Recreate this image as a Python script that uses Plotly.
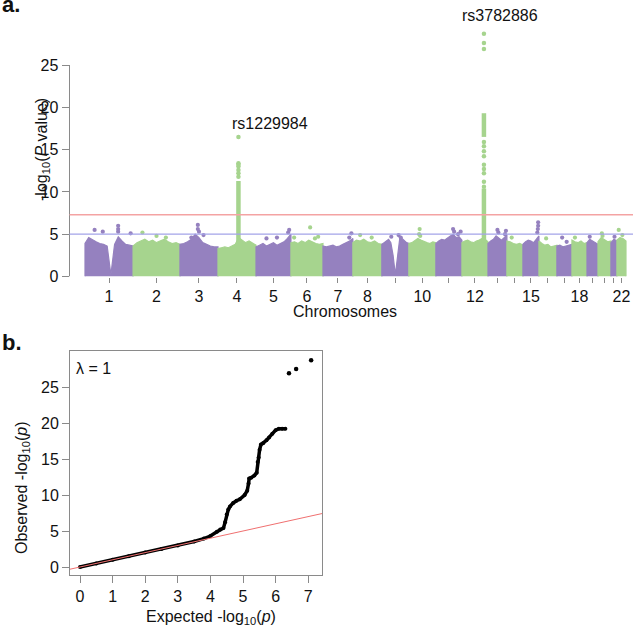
import numpy as np
import plotly.graph_objects as go

# ---------------- data ----------------
chrom_names = [str(i) for i in range(1, 23)]
# genomic extent covered by the data on each chromosome (Mb)
chrom_span_mb = [249, 243, 197, 197, 181, 166, 155, 150, 140, 140, 135,
                 135, 98, 83, 83, 93, 78, 78, 57, 67, 31, 47]
chrom_tick_labels = ["1", "2", "3", "4", "5", "6", "7", "8", "", "10", "",
                     "12", "", "", "15", "", "", "18", "", "", "", "22"]

# upper edge of the dense cloud of SNPs (-log10 P), evenly spaced along each chromosome
body_top = [
    [3.9, 4.6, 4.3, 4.1, 3.9, 3.8, 3.6, 0.2, 3.8, 4.7, 4.2, 3.8, 3.7, 3.6],
    [3.6, 4.0, 4.2, 4.4, 4.1, 4.3, 4.0, 4.2, 4.4, 4.1, 3.9, 4.0, 3.8],
    [3.8, 3.9, 4.1, 4.4, 5.0, 4.6, 4.0, 3.8, 3.6, 3.5, 3.5],
    [3.3, 3.4, 3.5, 3.4, 3.6, 3.8, 4.6, 4.3, 4.0, 4.2, 3.9, 3.7],
    [3.5, 3.7, 3.9, 3.6, 3.8, 4.0, 3.7, 3.9, 4.1, 4.5, 5.0],
    [4.0, 4.1, 3.9, 4.2, 4.0, 4.3, 4.1, 3.9, 3.8, 3.9],
    [3.6, 3.5, 3.6, 3.7, 3.5, 3.6, 3.8, 4.0, 4.2, 4.5],
    [4.0, 4.3, 4.2, 4.4, 4.1, 4.0, 4.2, 3.9, 3.8],
    [3.8, 4.0, 4.2, 4.4, 4.0, 2.5, 0.2, 2.8, 4.6, 4.5, 4.2, 4.0, 3.9],
    [3.9, 4.0, 4.2, 4.5, 4.3, 4.1, 4.0, 3.9, 4.1, 4.0],
    [3.9, 4.2, 4.4, 4.3, 4.6, 4.8, 5.0, 4.6, 4.7, 4.3],
    [4.0, 4.2, 4.3, 4.1, 4.0, 4.2, 4.3, 4.5, 4.4, 4.1],
    [3.9, 4.2, 4.4, 4.8, 4.5, 4.3, 4.6, 4.9],
    [4.2, 4.1, 3.9, 3.8, 3.9, 3.7],
    [3.8, 4.1, 4.3, 4.2, 4.0, 4.4, 4.8],
    [4.2, 3.9, 3.7, 3.8, 3.5, 3.6, 3.7],
    [3.6, 3.7, 3.5, 3.6, 3.7, 3.8],
    [4.3, 4.1, 4.0, 4.2, 3.9, 4.0],
    [4.0, 4.4, 4.2, 4.0, 3.8],
    [4.1, 4.6, 4.3, 4.1, 4.2],
    [4.0, 4.4, 4.2],
    [4.3, 4.6, 4.5, 4.2],
]

# isolated SNPs above the dense cloud: chromosome, fraction along it, -log10 P
dot_chrom = [1, 1, 1, 1, 1, 1, 2, 2, 2, 3, 3, 3, 3, 3, 5, 5, 5, 5, 6, 6, 6, 6,
             7, 7, 8, 8, 9, 9, 9, 10, 10, 10, 11, 11, 11, 11, 13, 13, 13, 13,
             14, 15, 15, 15, 15, 16, 17, 17, 18, 19, 20, 20, 21, 22, 22]
dot_frac = [0.20, 0.37, 0.69, 0.69, 0.69, 0.95, 0.20, 0.50, 0.70, 0.47, 0.47,
            0.50, 0.30, 0.62, 0.95, 0.92, 0.30, 0.60, 0.60, 0.85, 0.75, 0.10,
            0.95, 0.88, 0.25, 0.65, 0.35, 0.62, 0.70, 0.40, 0.38, 0.42, 0.66,
            0.70, 0.95, 0.85, 0.50, 0.55, 0.95, 0.90, 0.30, 0.95, 0.95, 0.93,
            0.90, 0.40, 0.35, 0.65, 0.20, 0.25, 0.30, 0.35, 0.60, 0.20, 0.60]
dot_logp = [5.5, 5.3, 6.0, 5.6, 5.3, 5.1, 5.2, 4.8, 4.6, 6.1, 5.6, 5.3, 4.6,
            4.9, 5.5, 5.2, 4.5, 4.6, 5.8, 4.7, 4.5, 4.6, 5.1, 4.6, 4.9, 4.6,
            4.7, 4.9, 4.6, 5.6, 5.0, 4.8, 5.6, 5.3, 5.3, 5.0, 5.5, 5.2, 5.4,
            5.0, 4.6, 6.4, 6.0, 5.6, 5.2, 4.5, 4.6, 4.1, 4.6, 4.7, 5.1, 4.8,
            4.7, 5.5, 4.9]

# association peaks
peak_chrom = [4, 12]
peak_pos_mb = [106, 114]
peak_snp = ["rs1229984", "rs3782886"]
peak_points = [
    [16.5, 13.4, 13.2, 13.0, 12.6, 12.2, 11.8],
    [28.7, 27.6, 26.9, 15.9, 15.4, 14.8, 14.2, 13.2, 12.7, 12.2, 11.2, 10.6],
]
peak_dense_low = [[4.0], [4.0, 16.5]]
peak_dense_high = [[11.3], [10.4, 19.3]]

genome_wide_line = 7.3
suggestive_line = 5.0

# QQ plot
qq_expected = [0.0, 0.5, 1.0, 1.5, 2.0, 2.5, 3.0, 3.5, 3.8, 4.0, 4.2, 4.3, 4.4,
               4.45, 4.5, 4.55, 4.6, 4.7, 4.8, 4.9, 5.05, 5.13, 5.17, 5.19,
               5.25, 5.35, 5.42, 5.45, 5.48, 5.51, 5.55, 5.62, 5.72, 5.8, 5.9,
               6.0, 6.1, 6.2, 6.3]
qq_observed = [0.0, 0.5, 1.0, 1.5, 2.0, 2.5, 3.0, 3.55, 3.95, 4.3, 4.9, 5.2,
               5.4, 6.2, 7.3, 8.0, 8.4, 8.9, 9.2, 9.4, 10.0, 10.6, 11.6, 12.3,
               12.4, 12.7, 13.1, 14.6, 15.2, 16.3, 17.0, 17.2, 17.6, 18.0, 18.5,
               19.0, 19.2, 19.2, 19.2]
qq_top_expected = [6.41, 6.63, 7.09]
qq_top_observed = [26.9, 27.5, 28.7]
qq_lambda = 1

# ---------------- styling ----------------
W, H = 633, 629
PURPLE = "#9581BF"
GREEN = "#A6D48E"
RED_LINE = "#F4A3A3"
BLUE_LINE = "#A3A3E8"
AXIS_GRAY = "#8A8A8A"
TXT = "#111111"
FONT = "Liberation Sans, Arial, sans-serif"

def px_x(p):
    return p / W

def px_y(p):
    return 1 - p / H

# Manhattan panel geometry (pixels)
M_LEFT, M_BOTTOM = 69.5, 276.5
M_PX_PER_MB = 0.193
M_DATA_START = 85.0
M_PX_PER_UNIT = 8.46
m_xrange = [(M_LEFT - M_DATA_START) / M_PX_PER_MB, (W - M_DATA_START) / M_PX_PER_MB]
m_yrange = [0, M_BOTTOM / M_PX_PER_UNIT]

# QQ panel geometry (pixels)
Q_L, Q_R, Q_T, Q_B = 70, 322, 351, 575

fig = go.Figure()

offsets = np.concatenate([[0], np.cumsum(chrom_span_mb)[:-1]])
centers = offsets + np.array(chrom_span_mb) / 2.0

for i, tops in enumerate(body_top):
    col = PURPLE if i % 2 == 0 else GREEN
    start, span = offsets[i], chrom_span_mb[i]
    xs = start + np.linspace(0, 1, len(tops)) * span
    fig.add_trace(go.Scatter(
        x=[start, *xs, start + span], y=[0, *tops, 0],
        mode="lines", fill="toself", fillcolor=col,
        line=dict(color=col, width=1.2), hoverinfo="skip",
        showlegend=False, xaxis="x", yaxis="y"))

dc = np.array(dot_chrom) - 1
dx = offsets[dc] + np.array(dot_frac) * np.array(chrom_span_mb)[dc]
dcol = [PURPLE if c % 2 == 0 else GREEN for c in dc]
fig.add_trace(go.Scatter(x=dx, y=dot_logp, mode="markers",
                         marker=dict(color=dcol, size=4.2, line=dict(width=0)),
                         showlegend=False, xaxis="x", yaxis="y"))

for k, c in enumerate(peak_chrom):
    col = PURPLE if (c - 1) % 2 == 0 else GREEN
    xpk = offsets[c - 1] + peak_pos_mb[k]
    for lo, hi in zip(peak_dense_low[k], peak_dense_high[k]):
        fig.add_trace(go.Scatter(x=[xpk, xpk], y=[lo, hi], mode="lines",
                                 line=dict(color=col, width=4.5),
                                 showlegend=False, xaxis="x", yaxis="y"))
    fig.add_trace(go.Scatter(x=[xpk] * len(peak_points[k]), y=peak_points[k],
                             mode="markers",
                             marker=dict(color=col, size=4.5, line=dict(width=0)),
                             showlegend=False, xaxis="x", yaxis="y"))

# QQ traces
fig.add_trace(go.Scatter(x=qq_expected, y=qq_observed, mode="lines+markers",
                         line=dict(color="black", width=3.5),
                         marker=dict(color="black", size=4),
                         showlegend=False, xaxis="x2", yaxis="y2"))
fig.add_trace(go.Scatter(x=qq_top_expected, y=qq_top_observed, mode="markers",
                         marker=dict(color="black", size=4.5),
                         showlegend=False, xaxis="x2", yaxis="y2"))
q_xr = [(Q_L - 80) / 32.6, (Q_R - 80) / 32.6]
q_yr = [(567 - Q_B) / 7.2, (567 - Q_T) / 7.2]
fig.add_trace(go.Scatter(x=q_xr, y=q_xr, mode="lines",
                         line=dict(color="#F07070", width=1),
                         showlegend=False, xaxis="x2", yaxis="y2"))

tickfont = dict(family=FONT, size=16, color=TXT)

fig.update_layout(
    width=W, height=H, margin=dict(l=0, r=0, t=0, b=0, autoexpand=False),
    paper_bgcolor="white", plot_bgcolor="white", showlegend=False,
    xaxis=dict(domain=[px_x(M_LEFT), 1], range=m_xrange, showgrid=False,
               zeroline=False, showline=False, ticks="outside", ticklen=5,
               tickcolor=AXIS_GRAY, tickvals=list(centers), automargin=False,
               ticktext=chrom_tick_labels, tickfont=tickfont),
    yaxis=dict(domain=[px_y(M_BOTTOM), 1], range=m_yrange, showgrid=False,
               zeroline=False, showline=False, ticks="outside", ticklen=7,
               tickcolor=AXIS_GRAY, tickvals=[0, 5, 10, 15, 20, 25],
               automargin=False, tickfont=tickfont),
    xaxis2=dict(domain=[px_x(Q_L), px_x(Q_R)], range=q_xr, anchor="y2",
                showgrid=False, zeroline=False, showline=True, mirror=True,
                linecolor=AXIS_GRAY, linewidth=1, ticks="outside", ticklen=7,
                tickcolor=AXIS_GRAY, tickvals=list(range(8)), automargin=False,
                tickfont=tickfont),
    yaxis2=dict(domain=[px_y(Q_B), px_y(Q_T)], range=q_yr, anchor="x2",
                showgrid=False, zeroline=False, showline=True, mirror=True,
                linecolor=AXIS_GRAY, linewidth=1, ticks="outside", ticklen=7,
                tickcolor=AXIS_GRAY, tickvals=[0, 5, 10, 15, 20, 25],
                automargin=False, tickfont=tickfont),
)

# Manhattan y-axis line (0..25) and threshold lines
fig.add_shape(type="line", xref="paper", yref="y", x0=px_x(M_LEFT), x1=px_x(M_LEFT),
              y0=0, y1=25, line=dict(color=AXIS_GRAY, width=1))
fig.add_shape(type="line", xref="paper", yref="y", x0=px_x(M_LEFT), x1=1,
              y0=genome_wide_line, y1=genome_wide_line,
              line=dict(color=RED_LINE, width=1.3))
fig.add_shape(type="line", xref="paper", yref="y", x0=px_x(M_LEFT), x1=1,
              y0=suggestive_line, y1=suggestive_line,
              line=dict(color=BLUE_LINE, width=1.3))

ann_font = dict(family=FONT, size=16, color=TXT)
label_y = [18.1, 30.9]
label_shift = [32, 16]
for k, c in enumerate(peak_chrom):
    xpk = offsets[c - 1] + peak_pos_mb[k]
    fig.add_annotation(x=xpk, y=label_y[k], xref="x", yref="y", text=peak_snp[k],
                       showarrow=False, xshift=label_shift[k], font=ann_font,
                       xanchor="center", yanchor="middle")

def label(px, py, text, angle=0, size=16, xanchor="center", bold=False):
    fig.add_annotation(x=px_x(px), y=px_y(py), xref="paper", yref="paper",
                       text=("<b>%s</b>" % text) if bold else text,
                       textangle=angle, showarrow=False, xanchor=xanchor,
                       yanchor="middle", font=dict(family=FONT, size=size, color=TXT))

label(345, 311, "Chromosomes")
label(42, 150, "-log<sub>10</sub>(<i>P</i> value)", angle=-90)
label(211, 617, "Expected -log<sub>10</sub>(<i>p</i>)")
label(22, 488, "Observed -log<sub>10</sub>(<i>p</i>)", angle=-90)
label(74, 368, "\u03bb = %d" % qq_lambda, xanchor="left")
label(0, 4, "a.", size=22, xanchor="left", bold=True)
label(0, 342, "b.", size=22, xanchor="left", bold=True)

fig.write_html("out.html", config={"displayModeBar": False},
               post_script="document.body.style.margin='0px';")
